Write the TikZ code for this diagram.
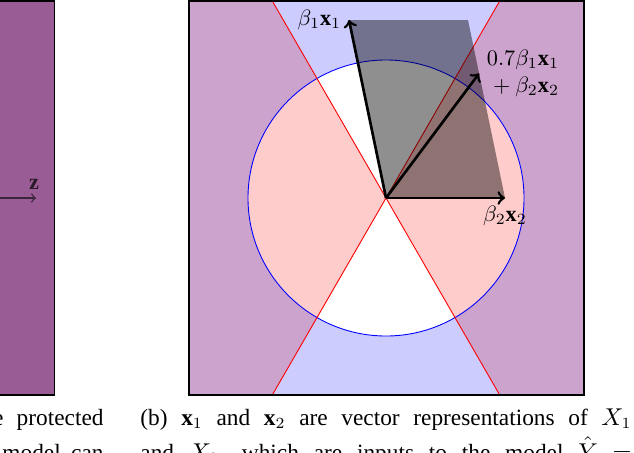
\documentclass[tikz,border=0pt]{standalone}
\usepackage{fontspec}
\setmainfont{Liberation Serif}
\usetikzlibrary{calc}
\definecolor{bluereg}{RGB}{204,204,255}
\definecolor{pinkreg}{RGB}{255,204,204}
\definecolor{purpreg}{RGB}{204,163,204}
\definecolor{leftpanel}{RGB}{153,92,148}
\definecolor{zarrow}{RGB}{60,38,60}
\begin{document}
\begin{tikzpicture}[x=0.45pt,y=-0.45pt,
  vec/.style={line width=1.2pt,->},
  frameline/.style={line width=0.5pt,draw=black},
  thinline/.style={line width=0.4pt},
  lab/.style={font=\fontsize{10}{12}\selectfont},
  captext/.style={font=\fontsize{10.5}{12.5}\selectfont,inner sep=0pt}]
\useasboundingbox (0,0) rectangle (634,452);
\clip (0,0) rectangle (634,452);

% ---------- left panel (partial) ----------
\fill[leftpanel] (-10,1) rectangle (54.5,395);
\draw[frameline] (-10,1) rectangle (54.5,395);
\coordinate (zs) at (-10,198);
\coordinate (zt) at (36,198);
\draw[->,draw=zarrow,line width=0.6pt] (zs) -- (zt);
\node[lab,text=zarrow!70!black] (zlab) at (34,184) {$\mathbf{z}$};

% ---------- right panel ----------
\coordinate (O) at (386,198);
\coordinate (TL) at (189,1);
\coordinate (BR) at (584,395);
\coordinate (La) at (272.3,1);
\coordinate (Lb) at (499.7,395);
\coordinate (Ra) at (499.7,1);
\coordinate (Rb) at (272.3,395);

\fill[bluereg] (TL) rectangle (BR);
\fill[white] (O) circle[radius=138];
\begin{scope}
  \clip (O) -- (La) -- (189,1) -- (189,395) -- (Rb) -- cycle
        (O) -- (Ra) -- (584,1) -- (584,395) -- (Lb) -- cycle;
  \fill[purpreg] (TL) rectangle (BR);
  \fill[pinkreg] (O) circle[radius=138];
\end{scope}
\draw[thinline,blue] (O) circle[radius=138];
\draw[thinline,red] (La) -- (Lb);
\draw[thinline,red] (Ra) -- (Rb);

% parallelogram and vectors
\coordinate (B1) at (349,20);
\coordinate (B2) at (505,198);
\coordinate (S) at ($(B1)+(B2)-(O)$);
\coordinate (V) at ($(O)+0.7*($(B1)-(O)$)+($(B2)-(O)$)$);
\fill[black,fill opacity=0.44] (O) -- (B2) -- (S) -- (B1) -- cycle;
\draw[vec] (O) -- (B1);
\draw[vec] (O) -- (B2);
\draw[vec] (O) -- (V);
\node[lab,left] (lb1) at (B1) {$\beta_1\mathbf{x}_1$};
\node[lab,below] (lb2) at (B2) {$\beta_2\mathbf{x}_2$};
\node[lab,right,align=right] (lv) at (V) {$0.7\beta_1\mathbf{x}_1$\\$+\:\beta_2\mathbf{x}_2$};

\draw[frameline] (TL) rectangle (BR);

% ---------- captions (cropped) ----------
\node[captext,anchor=base east] (c0) at (4,425) {the};
\node[captext,anchor=base east] (c1) at (104,425) {protected};
\node[captext,anchor=base east] (c2) at (104,460) {\makebox[45.5pt][s]{model can}};
\node[captext,anchor=base west] (c3) at (140,425) {\makebox[221pt][s]{(b) $\mathbf{x}_1$ and $\mathbf{x}_2$ are vector representations of $X_1$}};
\node[captext,anchor=base west] (c4) at (140,460) {\makebox[221pt][s]{and $X_2$, which are inputs to the model $\hat{Y}$ $=$}};
\end{tikzpicture}
\end{document}
